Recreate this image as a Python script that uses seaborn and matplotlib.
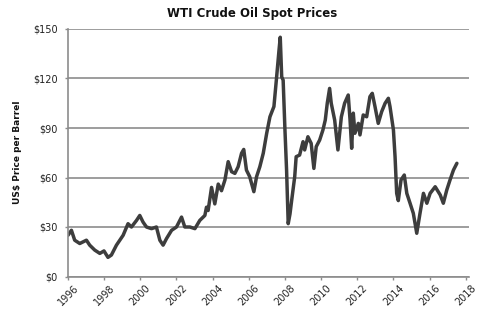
import matplotlib
matplotlib.use("Agg")
import matplotlib.pyplot as plt
import seaborn as sns
import pandas as pd

years = [1996.00, 1996.19, 1996.37, 1996.65, 1997.02, 1997.20, 1997.48, 1997.76, 1997.99, 1998.21,
         1998.40, 1998.68, 1999.05, 1999.32, 1999.51, 1999.79, 1999.97, 2000.15, 2000.34, 2000.62,
         2000.89, 2001.08, 2001.26, 2001.45, 2001.73, 2002.00, 2002.28, 2002.46, 2002.74, 2003.02,
         2003.29, 2003.57, 2003.66, 2003.75, 2003.94, 2004.12, 2004.31, 2004.49, 2004.68, 2004.86,
         2005.05, 2005.23, 2005.41, 2005.60, 2005.72, 2005.87, 2006.05, 2006.28, 2006.43, 2006.61,
         2006.80, 2006.99, 2007.17, 2007.39, 2007.54, 2007.67, 2007.74, 2007.82, 2007.90, 2008.00,
         2008.09, 2008.18, 2008.28, 2008.37, 2008.54, 2008.62, 2008.81, 2009.00, 2009.09, 2009.27,
         2009.45, 2009.60, 2009.73, 2009.92, 2010.10, 2010.23, 2010.34, 2010.47, 2010.56, 2010.75,
         2010.93, 2011.12, 2011.30, 2011.50, 2011.60, 2011.69, 2011.78, 2011.87, 2012.06, 2012.15,
         2012.33, 2012.52, 2012.70, 2012.83, 2012.98, 2013.16, 2013.35, 2013.54, 2013.72, 2013.81,
         2014.00, 2014.09, 2014.18, 2014.27, 2014.42, 2014.60, 2014.74, 2014.92, 2015.10, 2015.29,
         2015.47, 2015.66, 2015.85, 2016.03, 2016.31, 2016.59, 2016.76, 2016.95, 2017.13, 2017.32,
         2017.51]

prices = [25.0, 28.0, 22.0, 20.0, 22.0, 19.0, 16.0, 14.0, 15.5, 11.6,
          13.0, 19.0, 25.0, 32.0, 30.0, 34.0, 37.0, 33.0, 30.0, 29.0,
          30.0, 22.0, 19.0, 23.0, 28.0, 30.0, 36.0, 30.0, 30.0, 29.0,
          34.0, 37.0, 42.0, 40.0, 54.0, 44.0, 56.0, 52.0, 58.5, 69.6,
          63.5, 62.5, 66.5, 74.7, 77.0, 64.5, 60.5, 51.4, 60.5, 66.5,
          74.7, 86.8, 96.8, 103.0, 121.0, 137.0, 145.0, 121.0, 119.0, 88.8,
          64.5, 32.0, 38.0, 46.0, 60.5, 72.6, 73.6, 81.7, 76.7, 84.7,
          80.7, 65.5, 78.7, 82.7, 88.8, 94.8, 105.0, 114.0, 105.0, 94.8,
          76.7, 96.8, 105.0, 110.0, 95.0, 77.7, 99.0, 86.8, 92.8, 85.8,
          97.9, 96.8, 109.0, 111.0, 103.0, 92.8, 99.9, 105.0, 108.0, 103.0,
          88.8, 72.6, 50.4, 46.0, 58.5, 61.5, 50.4, 44.4, 38.3, 26.2,
          38.3, 50.4, 44.4, 50.4, 54.4, 49.4, 44.4, 52.4, 58.5, 64.5,
          68.6]

x_ticks = [1996, 1998, 2000, 2002, 2004, 2006, 2008, 2010, 2012, 2014, 2016, 2018]
y_ticks = [0, 30, 60, 90, 120, 150]
y_tick_labels = ["$0", "$30", "$60", "$90", "$120", "$150"]

title = "WTI Crude Oil Spot Prices"
y_label = "US$ Price per Barrel"

df = pd.DataFrame({"year": years, "price": prices})

sns.set_style("white")
plt.rcParams["font.family"] = ["DejaVu Sans"]

fig = plt.figure(figsize=(4.83, 3.22), dpi=100)
ax = fig.add_axes([68 / 483, 1 - 276.5 / 322, (469 - 68) / 483, (276.5 - 29) / 322])

sns.lineplot(data=df, x="year", y="price", ax=ax, color="#3d3d3d", linewidth=2.5)

ax.set_xlim(1996, 2018.18)
ax.set_ylim(0, 150)
ax.set_xticks(x_ticks)
ax.set_xticklabels([str(t) for t in x_ticks], rotation=45, fontsize=7, color="#222222")
ax.set_yticks(y_ticks)
ax.set_yticklabels(y_tick_labels, fontsize=7, color="#222222")

ax.grid(axis="y", color="#8c8c8c", linewidth=1.2)
ax.grid(axis="x", visible=False)
ax.set_axisbelow(True)

for s in ["top", "right"]:
    ax.spines[s].set_visible(False)
for s in ["left", "bottom"]:
    ax.spines[s].set_color("#8c8c8c")
    ax.spines[s].set_linewidth(1.2)

ax.tick_params(axis="both", which="major", length=2.5, width=1, color="#8c8c8c",
               direction="out", left=True, bottom=True)
ax.tick_params(axis="y", pad=5)
ax.tick_params(axis="x", pad=2)

ax.set_xlabel("")
ax.set_ylabel(y_label, fontsize=6.5, fontweight="bold", color="#111111", labelpad=8)
fig.text(252 / 483, 1 - 14 / 322, title, ha="center", va="center",
         fontsize=8.5, fontweight="bold", color="#111111")

fig.savefig("out.png", dpi=100)
